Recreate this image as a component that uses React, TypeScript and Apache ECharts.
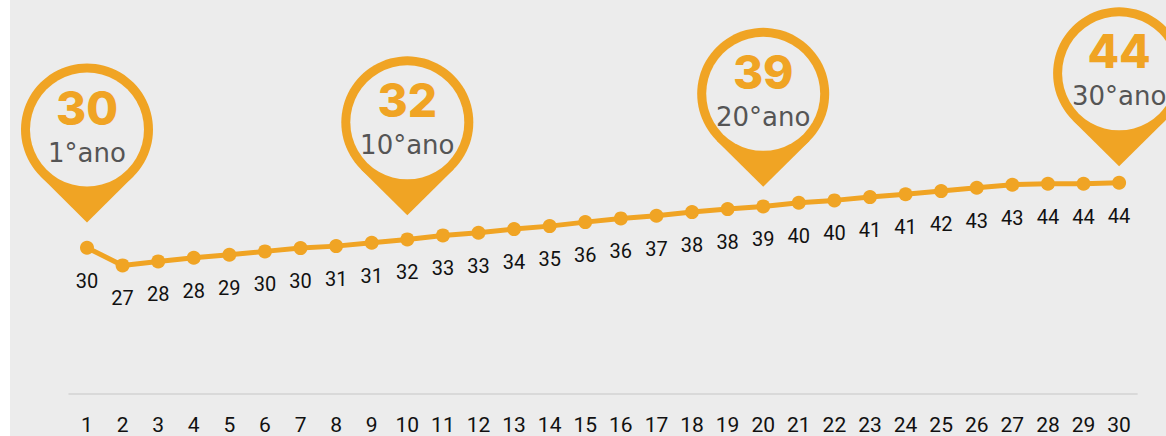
import React, { useEffect, useRef } from "react";
import * as echarts from "echarts";

const years = ["1","2","3","4","5","6","7","8","9","10","11","12","13","14","15","16","17","18","19","20","21","22","23","24","25","26","27","28","29","30"];
const values = [30.35, 26.68, 27.51, 28.28, 28.9, 29.59, 30.27, 30.68, 31.39, 32.07, 32.9, 33.45, 34.21, 34.83, 35.66, 36.43, 36.99, 37.74, 38.36, 38.92, 39.69, 40.17, 40.85, 41.45, 42.1, 42.8, 43.42, 43.63, 43.63, 43.84];
const pinYears = [1, 10, 20, 30];

const ORANGE = "#f0a424";
const BG = "#ececec";

export default function App() {
  const ref = useRef<HTMLDivElement>(null);
  useEffect(() => {
    if (!ref.current) return;
    const chart = echarts.init(ref.current, null, { renderer: "svg" });
    const pinData = pinYears.map((y) => [y - 1, values[y - 1], y]);
    chart.setOption({
      animation: false,
      backgroundColor: BG,
      grid: { left: 59.2, right: 29.1, top: 8.4, bottom: 42 },
      xAxis: {
        type: "category",
        data: years,
        boundaryGap: true,
        axisLine: { show: true, lineStyle: { color: "#d9d9d9", width: 2 } },
        axisTick: { show: false },
        axisLabel: { color: "#111", fontSize: 21, fontFamily: "Roboto", margin: 20, interval: 0 },
      },
      yAxis: [
        { type: "value", min: 0, max: 80, show: false, splitLine: { show: false } },
        { type: "value", min: -10.8, max: 81.74, show: false, splitLine: { show: false } },
      ],
      series: [
        {
          type: "line",
          data: values,
          color: ORANGE,
          lineStyle: { color: ORANGE, width: 5 },
          symbol: "circle",
          symbolSize: 14,
          itemStyle: { color: ORANGE },
          label: {
            show: true,
            position: "bottom",
            distance: 16,
            color: "#111",
            fontSize: 20,
            fontFamily: "Roboto",
            formatter: (p: any) => String(Math.round(p.value)),
          },
          z: 2,
        },
        {
          type: "custom",
          yAxisIndex: 1,
          data: pinData,
          z: 5,
          clip: false,
          renderItem: (params: any, api: any) => {
            const p = api.coord([api.value(0), api.value(1)]);
            const yr = api.value(2);
            const cx = p[0];
            const tipY = p[1];
            const cy = tipY - 93;
            const R = 66;
            const ty = (R * R) / 93;
            const tx = Math.sqrt(R * R - ty * ty);
            return {
              type: "group",
              children: [
                { type: "circle", shape: { cx, cy, r: R }, style: { fill: ORANGE } },
                {
                  type: "polygon",
                  shape: { points: [[cx - tx, cy + ty], [cx + tx, cy + ty], [cx, cy + 93]] },
                  style: { fill: ORANGE },
                },
                { type: "circle", shape: { cx, cy, r: 57 }, style: { fill: BG } },
                {
                  type: "text",
                  x: cx,
                  y: cy - 22,
                  style: {
                    text: String(Math.round(api.value(1))),
                    fill: ORANGE,
                    fontSize: 46,
                    fontWeight: 800,
                    fontFamily: "Inter",
                    align: "center",
                    verticalAlign: "middle",
                  },
                },
                {
                  type: "text",
                  x: cx,
                  y: cy + 23,
                  style: {
                    text: `${yr}°ano`,
                    fill: "#555",
                    fontSize: 26,
                    fontFamily: "DejaVu Sans",
                    align: "center",
                    verticalAlign: "middle",
                  },
                },
              ],
            };
          },
        },
      ],
    });
    return () => chart.dispose();
  }, []);
  return (
    <div
      ref={ref}
      style={{ position: "absolute", left: 10, top: 0, width: 1156, height: 436 }}
    />
  );
}
